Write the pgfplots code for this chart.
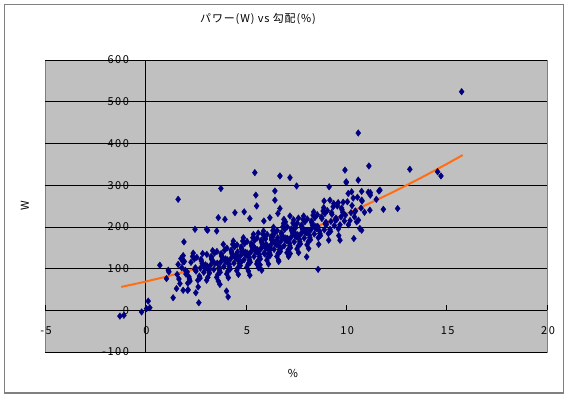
\documentclass[border=0pt]{standalone}
\usepackage{fontspec}
\setmainfont{Noto Sans CJK JP}
\newfontfamily\tickfont[LetterSpace=14]{Noto Sans CJK JP}
\newfontfamily\titlefont[LetterSpace=8]{Noto Sans CJK JP}
\usepackage{pgfplots}
\pgfplotsset{compat=1.18}
\definecolor{plotbg}{HTML}{C0C0C0}
\definecolor{navyc}{HTML}{000080}
\definecolor{trendc}{RGB}{255,110,20}
\definecolor{framec}{HTML}{808080}
\begin{document}
\begin{tikzpicture}
\begin{axis}[
  scale only axis, width=502bp, height=292bp,
  clip=false,
  axis lines=middle,
  axis line style={black, line width=0.8bp, -},
  axis background/.style={fill=plotbg, draw=framec, line width=0.8bp},
  xmin=-5, xmax=20, ymin=-100, ymax=600,
  xtick={-5,0,5,10,15,20}, ytick={-100,0,100,200,300,400,500,600},
  hide obscured x ticks=false, hide obscured y ticks=false,
  ymajorgrids, grid style={black, line width=0.6bp},
  major tick length=5bp,
  xtick align=inside, ytick align=outside,
  tick style={black, line width=0.6bp},
  /pgf/number format/assume math mode=true,
  tick label style={font=\tickfont\fontsize{11}{13}\selectfont, text=black},
  xticklabel style={anchor=center, yshift=-20bp, xshift=1bp},
  yticklabel style={anchor=east, xshift=-8bp},
  title={パワー(W) vs 勾配(\%)},
  title style={at={(rel axis cs:0.4243,1.1199)}, anchor=center, font=\titlefont\fontsize{11}{13}\selectfont},
  xlabel={\%}, ylabel={W},
  xlabel style={at={(rel axis cs:0.494,-0.072)}, anchor=center, font=\tickfont\fontsize{11}{13}\selectfont},
  ylabel style={at={(rel axis cs:-0.04,0.5)}, anchor=center, rotate=90, font=\tickfont\fontsize{11}{13}\selectfont},
]
\addplot[only marks, mark=diamond*, mark size=3.3bp, color=navyc, mark options={fill=navyc, draw=navyc}] coordinates {
(1.55,52)(1.81,102)(1.67,75)(1.94,117)(1.58,86)(1.88,131)(1.72,64)(1.99,96)
(2.44,123)(2.08,92)(2.38,137)(2.22,70)(2.49,102)(2.13,49)(2.27,115)(2.02,87)(2.35,129)(2.19,75)(2.46,98)(2.11,65)
(2.72,77)(2.99,109)(2.63,56)(2.77,122)(2.52,94)(2.85,136)(2.69,82)(2.96,105)(2.61,72)(2.79,118)(2.91,91)(2.56,127)(2.74,101)(2.83,112)
(3.27,129)(3.02,101)(3.35,143)(3.19,89)(3.46,112)(3.11,79)(3.29,125)(3.41,98)(3.06,134)(3.24,108)(3.33,119)(3.05,72)(3.31,122)(3.17,95)(3.44,137)(3.08,106)
(3.69,96)(3.96,119)(3.61,86)(3.79,132)(3.91,105)(3.56,141)(3.74,115)(3.83,126)(3.55,79)(3.81,129)(3.67,102)(3.94,144)(3.58,113)(3.88,158)(3.72,91)(3.99,123)(3.63,70)(3.77,136)
(4.29,140)(4.41,113)(4.06,149)(4.24,123)(4.33,134)(4.05,87)(4.31,137)(4.17,110)(4.44,152)(4.08,121)(4.38,166)(4.22,99)(4.49,131)(4.13,78)(4.27,144)(4.02,116)(4.35,158)(4.19,104)(4.46,127)(4.11,94)
(4.74,131)(4.83,142)(4.55,95)(4.81,145)(4.67,118)(4.94,160)(4.58,129)(4.88,174)(4.72,107)(4.99,139)(4.63,86)(4.77,152)(4.52,124)(4.85,166)(4.69,112)(4.96,135)(4.61,102)(4.79,148)(4.91,121)(4.56,157)(4.76,115)(4.59,140)
(5.31,153)(5.17,126)(5.44,168)(5.08,137)(5.38,182)(5.22,115)(5.49,147)(5.13,94)(5.27,160)(5.02,132)(5.35,174)(5.19,120)(5.46,143)(5.11,110)(5.29,156)(5.41,129)(5.06,165)(5.24,139)(5.33,150)(5.05,103)(5.42,171)(5.15,113)(5.37,155)(5.03,134)
(5.58,145)(5.88,190)(5.72,123)(5.99,155)(5.63,102)(5.77,168)(5.52,140)(5.85,182)(5.69,128)(5.96,151)(5.61,118)(5.79,164)(5.91,137)(5.56,173)(5.74,147)(5.83,158)(5.55,111)(5.81,161)(5.67,134)(5.94,176)(5.98,171)(5.71,109)(5.82,152)(5.62,185)(5.95,135)(5.57,116)
(6.49,164)(6.13,111)(6.27,177)(6.02,149)(6.35,191)(6.19,137)(6.46,160)(6.11,127)(6.29,173)(6.41,146)(6.06,182)(6.24,156)(6.33,167)(6.05,120)(6.31,170)(6.17,143)(6.44,185)(6.08,154)(6.38,199)(6.22,132)(6.28,169)(6.39,184)(6.18,136)(6.01,158)(6.34,176)(6.23,148)
(6.52,158)(6.85,200)(6.69,146)(6.96,169)(6.61,136)(6.79,182)(6.91,155)(6.56,191)(6.74,165)(6.83,176)(6.55,129)(6.81,179)(6.67,152)(6.94,194)(6.58,163)(6.88,208)(6.72,141)(6.99,173)(6.63,120)(6.77,186)(6.97,212)(6.64,117)(6.76,149)(6.59,174)(6.92,197)(6.65,139)
(7.46,178)(7.11,145)(7.29,191)(7.41,164)(7.06,200)(7.24,174)(7.33,185)(7.05,138)(7.31,188)(7.17,161)(7.44,203)(7.08,172)(7.38,217)(7.22,150)(7.49,182)(7.13,129)(7.27,195)(7.02,167)(7.35,209)(7.19,155)(7.37,190)(7.03,169)(7.48,198)(7.21,136)
(7.91,173)(7.56,209)(7.74,183)(7.83,194)(7.55,147)(7.81,197)(7.67,170)(7.94,212)(7.58,181)(7.88,226)(7.72,159)(7.99,191)(7.63,138)(7.77,204)(7.52,176)(7.85,218)(7.69,164)(7.96,187)(7.61,154)(7.79,200)(7.82,188)(7.62,221)
(8.33,204)(8.05,157)(8.31,207)(8.17,180)(8.44,222)(8.08,191)(8.38,236)(8.22,169)(8.49,201)(8.13,148)(8.27,214)(8.02,186)(8.35,228)(8.19,174)(8.46,197)(8.11,164)(8.29,210)(8.41,183)(8.06,219)(8.24,193)
(8.67,190)(8.94,232)(8.58,201)(8.88,246)(8.72,179)(8.99,211)(8.63,158)(8.77,224)(8.52,196)(8.85,238)(8.69,184)(8.96,207)(8.61,174)(8.79,220)(8.91,193)(8.56,229)
(9.38,256)(9.22,189)(9.49,221)(9.13,168)(9.27,234)(9.02,206)(9.35,248)(9.19,194)(9.46,217)(9.11,184)(9.29,230)(9.41,203)(9.06,239)(9.24,213)
(9.63,179)(9.77,245)(9.52,217)(9.85,259)(9.69,205)(9.96,228)(9.61,195)(9.79,241)(9.91,214)(9.56,250)(9.74,224)(9.83,235)
(10.35,269)(10.19,215)(10.46,238)(10.11,205)(10.29,251)(10.41,224)(10.06,260)(10.24,234)
(10.61,216)(10.79,262)(10.91,235)(10.56,271)(10.74,245)
(1.63,266)(-1.27,-14)(-1.07,-12)(-0.19,-4)(0.14,22)(0.22,6)(0.06,4)(0.72,108)(1.38,30)(1.17,92)(1.05,76)(1.14,96)(1.88,116)
(1.92,164)(1.77,124)(1.63,110)(2.47,194)(3.05,194)(3.10,192)(3.55,190)(2.66,18)(2.51,42)(2.17,80)(1.88,48)(2.10,48)
(5.45,330)(6.70,322)(7.20,318)(3.76,292)(5.50,276)(6.45,286)(6.45,264)(5.54,250)(6.70,244)(4.46,234)(4.92,236)(3.63,222)(3.96,218)(5.20,220)
(4.04,46)(4.12,32)(3.71,62)(5.20,84)(5.79,96)(6.20,222)(6.90,218)(7.20,226)(5.90,214)(6.60,232)
(10.60,425)(9.94,336)(11.13,346)(10.60,312)(10.00,308)(9.15,296)(7.53,298)(8.60,98)(8.03,128)(10.38,172)(9.69,168)(11.18,240)(11.63,286)(10.68,196)
(9.19,264)(9.60,258)(8.90,262)(10.10,280)(10.27,284)(10.77,285)(11.10,283)(10.77,264)(10.43,236)(10.52,212)(10.77,192)
(15.75,524)(13.17,338)(14.55,332)(14.72,322)(11.68,288)(11.20,282)(11.20,276)(11.50,266)(11.85,242)(12.56,244)(10.00,306)
};
\addplot[color=trendc, line width=2bp, no marks] coordinates {
(-1.2,56.0)(0,68.6)(1,80.2)(2,92.8)(3,106.5)(4,121.1)(5,136.9)(6,153.6)(7,171.4)(8,190.1)(9,210.0)(10,230.8)(11,252.7)(12,275.6)(13,299.5)(14,324.5)(15,350.5)(15.8,372.0)
};
\draw[framec, line width=1.2bp] (rel axis cs:-0.0807,-0.1404) rectangle (rel axis cs:1.0325,1.1894);
\path (rel axis cs:-0.08964,-0.15753) rectangle (rel axis cs:1.04582,1.20548);
\end{axis}
\end{tikzpicture}
\end{document}
